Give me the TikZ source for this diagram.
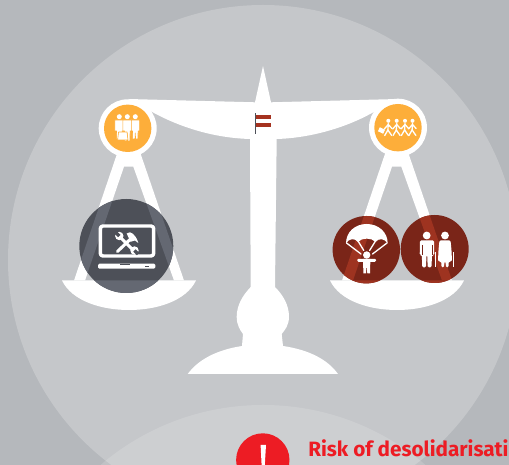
\documentclass[tikz,border=0pt]{standalone}
\usepackage{fontspec}
\usepackage{tikz}
\usepackage{xcolor}
\setsansfont{Fira Sans}
\definecolor{bgrey}{HTML}{B5B8BC}
\definecolor{cgrey}{HTML}{C5C7CA}
\definecolor{sandy}{HTML}{FDAE3A}
\definecolor{slate}{HTML}{4D5058}
\definecolor{slatelt}{HTML}{646872}
\definecolor{brick}{HTML}{7A2518}
\definecolor{bricklt}{HTML}{9E3320}
\definecolor{flagred}{HTML}{A5321F}
\definecolor{riskred}{HTML}{ED1C24}
\tikzset{
    iconline/.style={draw=white,line width=1pt,line cap=round,line join=round},
}
\newcommand{\hangerpath}{(118.3,150)-- (74,280.5)-- (85,280.5)-- (124,166.7)-- (133.3,166.7)-- (174,280.5)-- (184,280.5)-- (139.3,150)-- cycle}
\newcommand{\panpath}{(62,280.5)-- (196,280.5) .. controls (186,301) and (157,310) .. (129,310) .. controls (101,310) and (72,301) .. (62,280.5)-- cycle}
\newcommand{\standing}[3]{
    \fill [white] (#1,116.7) circle (2.5);
    \draw [#3,fill=white,line width=0.45pt] (#1-4.4,120)-- (#1+4.4,120)-- (#1+4.4,131)-- (#1+2.8,131)-- (#1+2.6,#2)-- (#1+0.3,#2)-- (#1,133)-- (#1-0.3,#2)-- (#1-2.6,#2)-- (#1-2.8,131)-- (#1-4.4,131)-- cycle;
}
\newcommand{\runner}[1]{
    \fill [white] (#1,120.8) circle (2);
    \draw [iconline] (#1,123.5)-- (#1-0.4,130);
    \draw [iconline] (#1-4,129)-- (#1,124.5)-- (#1+3.6,128.5);
    \draw [iconline] (#1-3.6,135.5)-- (#1-0.4,130)-- (#1+3.4,135.5);
}
\begin{document}
\begin{tikzpicture}[line cap=round,line join=round,x=0.02646cm,y=-0.02646cm]
    \useasboundingbox (0,0) rectangle (509,465);
    \clip (0,0) rectangle (509,465);
    \fill [bgrey] (0,0) rectangle (509,465);
    \fill [cgrey] (263,260) circle (255);
    \fill [white,opacity=0.15] (263,655) circle (250);
    % scale
    \fill [white] (128,99)-- (255,102.3)-- (263,66)-- (271,102.3)-- (398,99)-- (372,113) .. controls (345,128) and (310,138) .. (276.7,139)-- (275,287) .. controls (283,295) and (289,305) .. (289,316.7) .. controls (289,325) and (285,330) .. (281.7,334)-- (283,346) .. controls (310,350) and (328,360) .. (338,374)-- (187.7,374) .. controls (198,360) and (216,350) .. (242,346)-- (243,334) .. controls (240,330) and (236.7,325) .. (236.7,316.7) .. controls (236.7,305) and (243,295) .. (250.7,287)-- (250,139) .. controls (215,138) and (182,128) .. (154,113)-- cycle;
    \fill [white] \hangerpath;
    \fill [white] \panpath;
    \begin{scope}[xshift=268*0.02646cm]
        \fill [white] \hangerpath;
        \fill [white] \panpath;
    \end{scope}
    \fill [white] (127.7,128.3) circle (29);
    \fill [white] (398,127.7) circle (29);
    \fill [sandy] (127.7,128.3) circle (23.7);
    \fill [sandy] (398,127.7) circle (23.7);
    % flag
    \draw [line width=0.4pt,color=slate,line cap=butt] (255,113.3)-- (255,134);
    \fill [flagred] (255.5,115) rectangle (271,119);
    \fill [flagred] (255.5,123) rectangle (271,127);
    % weights
    \fill [slate] (126.3,246) circle (47);
    \begin{scope}
        \clip (126.3,246) circle (47);
        \fill [slatelt] \hangerpath;
        \fill [slatelt] \panpath;
    \end{scope}
    \fill [brick] (366.3,249.7) circle (33.7);
    \begin{scope}
        \clip (366.3,249.7) circle (33.7);
        \begin{scope}[xshift=268*0.02646cm]
            \fill [bricklt] \hangerpath;
            \fill [bricklt] \panpath;
        \end{scope}
    \end{scope}
    \fill [brick] (434.7,249) circle (34);
    \begin{scope}
        \clip (434.7,249) circle (34);
        \begin{scope}[xshift=268*0.02646cm]
            \fill [bricklt] \hangerpath;
            \fill [bricklt] \panpath;
        \end{scope}
    \end{scope}
    % workers
    \standing{119.3}{139}{sandy}
    \standing{135.3}{139}{sandy}
    \standing{127.3}{141}{sandy}
    \draw [sandy,fill=white,line width=0.45pt] (118.6,132)-- (127,132)-- (128,140)-- (117.6,140)-- cycle;
    % migrants
    \runner{388.3}
    \runner{396.7}
    \runner{405}
    \runner{412.5}
    \fill [white,rotate around={-25:(381.5,130.5)}] (378.6,128.3) rectangle (384.4,132.7);
    % laptop
    \draw [white,line width=2.6pt,rounded corners=2pt] (100.3,226) rectangle (153.7,256);
    \fill [white,rounded corners=1pt] (98,263.7) rectangle (155.3,268.7);
    \fill [slate] (120.3,263.7) rectangle (130.3,265);
    \fill [slate] (145.3,266.4) rectangle (149.3,267.4);
    \draw [white,line width=2.3pt,line cap=butt] (120.5,237.5)-- (134,251);
    \fill [white] (119.3,236) circle (4.2);
    \fill [white] (134.5,250.5) circle (4.2);
    \fill [slate,rotate around={45:(119.3,236)}] (117.6,231)-- (121,231)-- (121,236)-- (117.6,236)-- cycle;
    \fill [slate,rotate around={45:(134.5,250.5)}] (132.8,250.5)-- (136.2,250.5)-- (136.2,255.5)-- (132.8,255.5)-- cycle;
    \draw [white,line width=2.3pt,line cap=round] (117.5,251.5)-- (131,238.5);
    \fill [white] (126.7,233.5)-- (130,232.3) .. controls (134,233.5) and (137,238) .. (138.3,243)-- (135,240.5)-- (130.5,241.8)-- cycle;
    % parachute
    \fill [white] (346,243.5) .. controls (346,232) and (355,224) .. (366.7,224) .. controls (378.4,224) and (387.7,232) .. (387.7,243.5) .. controls (384,238) and (379,238) .. (375.5,242) .. controls (372,237.5) and (361.5,237.5) .. (358,242) .. controls (355,238) and (349,238) .. (346,243.5)-- cycle;
    \draw [iconline] (346.5,243)-- (361,254);
    \draw [iconline] (387,243)-- (372.5,254);
    \draw [iconline] (358,241)-- (363.8,250.5);
    \draw [iconline] (375.5,241)-- (369.6,250.5);
    \fill [white] (366.7,255) circle (3.7);
    \fill [white,rounded corners=0.8pt] (357.3,258.8) rectangle (376,261.8);
    \fill [white] (363,258.8)-- (370.4,258.8)-- (370,273.5)-- (367.3,273.5)-- (367,268)-- (366.4,268)-- (366,273.5)-- (363.4,273.5)-- cycle;
    % elderly couple
    \fill [white] (426.7,235.5) circle (3.9);
    \fill [white,rounded corners=1pt] (420,240.3)-- (434,240.3)-- (434.3,255)-- (432,255)-- (431.5,267.5)-- (427.7,267.5)-- (427.2,255)-- (426.5,255)-- (426,267.5)-- (422.3,267.5)-- (421.8,255)-- (419.7,255)-- cycle;
    \draw [brick,line width=0.35pt,line cap=butt] (422.3,245)-- (422.3,255);
    \draw [brick,line width=0.35pt,line cap=butt] (431.8,245)-- (431.8,255);
    \fill [white] (445,235.5) circle (3.9);
    \fill [white,rounded corners=1pt] (439.5,240.3)-- (450.5,240.3)-- (451.5,250)-- (452,261.5)-- (448.7,261.5)-- (448.5,267.5)-- (446,267.5)-- (445.5,261.5)-- (444.5,261.5)-- (444,267.5)-- (441.5,267.5)-- (441.3,261.5)-- (438,261.5)-- (438.5,250)-- cycle;
    \draw [white,line width=0.5pt,line cap=butt] (435.6,252)-- (435.6,267.5);
    \draw [white,line width=0.5pt,line cap=butt] (453.2,252)-- (453.2,267.5);
    % risk marker
    \fill [riskred] (262.8,460) circle (26.7);
    \fill [white] (260.6,445)-- (266,445)-- (264.8,465)-- (261.6,465)-- cycle;
    \node (risktext) [anchor=base west,inner sep=0pt,color=riskred,font=\sffamily\bfseries\fontsize{15.6pt}{17pt}\selectfont] at (308,456.7) {Risk of desolidarisati};
\end{tikzpicture}
\end{document}
